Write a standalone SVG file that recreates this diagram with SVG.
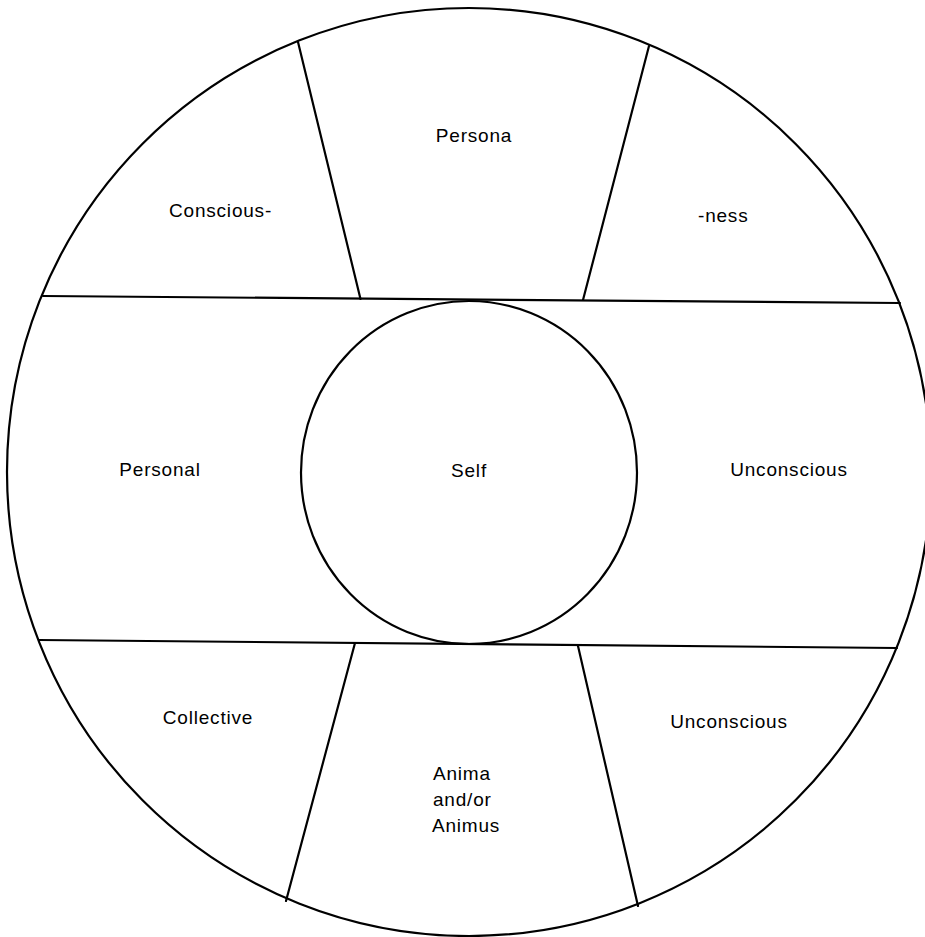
<svg xmlns="http://www.w3.org/2000/svg" width="925" height="937" viewBox="0 0 925 937">
<style>
.ln{fill:none;stroke:#000;stroke-width:2.2;stroke-linecap:round}
.t{font-family:"Liberation Sans",Arial,sans-serif;font-size:19px;letter-spacing:0.8px;fill:#000}
.c{text-anchor:middle}
</style>
<rect width="925" height="937" fill="#fff"/>
<g id="connectors">
<ellipse class="ln" cx="469" cy="472" rx="462" ry="464"/>
<line class="ln" x1="43" y1="296" x2="900" y2="303"/>
<line class="ln" x1="39" y1="640" x2="897" y2="648"/>
<line class="ln" x1="298" y1="42" x2="360.5" y2="299"/>
<line class="ln" x1="649" y1="46" x2="583" y2="300"/>
<line class="ln" x1="355" y1="643" x2="286" y2="901"/>
<line class="ln" x1="578" y1="646" x2="638" y2="906"/>
</g>
<g id="self">
<ellipse class="ln" cx="469" cy="472.5" rx="168" ry="171.5"/>
<text class="t c" x="469" y="477">Self</text>
</g>
<g id="persona"><text class="t c" x="474" y="142">Persona</text></g>
<g id="consciousness-left"><text class="t" x="169" y="217">Conscious-</text></g>
<g id="consciousness-right"><text class="t" x="698" y="222">-ness</text></g>
<g id="personal"><text class="t c" x="160" y="476">Personal</text></g>
<g id="unconscious-personal"><text class="t c" x="789" y="476">Unconscious</text></g>
<g id="collective"><text class="t c" x="208" y="724">Collective</text></g>
<g id="unconscious-collective"><text class="t c" x="729" y="728">Unconscious</text></g>
<g id="anima">
<text class="t" x="433" y="780">Anima</text>
<text class="t" x="433" y="806">and/or</text>
<text class="t" x="432" y="832">Animus</text>
</g>
</svg>
